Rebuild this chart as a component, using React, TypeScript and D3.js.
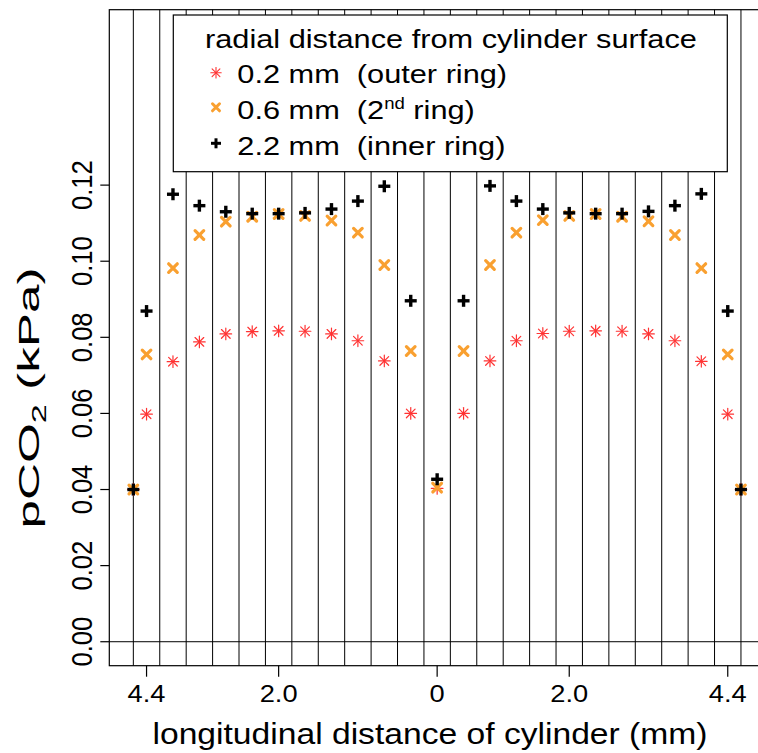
import React from "react";
import * as d3 from "d3";

// ---- data (x in cell units along the cylinder) ----
const xPositions = [0, 0.5, 1.5, 2.5, 3.5, 4.5, 5.5, 6.5, 7.5, 8.5, 9.5, 10.5, 11.5, 12.5, 13.5, 14.5, 15.5, 16.5, 17.5, 18.5, 19.5, 20.5, 21.5, 22.5, 23];
const outerRing = [0.040, 0.0598, 0.0736, 0.0788, 0.0809, 0.0815, 0.0817, 0.0816, 0.0809, 0.0791, 0.0738, 0.0600, 0.0403, 0.0600, 0.0738, 0.0791, 0.0810, 0.0816, 0.0817, 0.0816, 0.0809, 0.0791, 0.0737, 0.0598, 0.040];
const secondRing = [0.040, 0.0755, 0.0982, 0.1069, 0.1104, 0.1117, 0.1124, 0.1119, 0.1107, 0.1075, 0.0990, 0.0764, 0.0405, 0.0764, 0.0990, 0.1075, 0.1108, 0.1119, 0.1124, 0.1117, 0.1105, 0.1069, 0.0982, 0.0755, 0.040];
const innerRing = [0.040, 0.0869, 0.1176, 0.1146, 0.1130, 0.1125, 0.1125, 0.1127, 0.1137, 0.1158, 0.1197, 0.0896, 0.0427, 0.0896, 0.1198, 0.1158, 0.1137, 0.1127, 0.1125, 0.1125, 0.1131, 0.1146, 0.1177, 0.0869, 0.040];
const cellBoundaries = [0, 1, 2, 3, 4, 5, 6, 7, 8, 9, 10, 11, 12, 13, 14, 15, 16, 17, 18, 19, 20, 21, 22, 23];
const xTickPositions = [0.5, 5.5, 11.5, 16.5, 22.5];
const xTickLabels = ["4.4", "2.0", "0", "2.0", "4.4"];
const yTicks = [0, 0.02, 0.04, 0.06, 0.08, 0.1, 0.12];
const yTickLabels = ["0.00", "0.02", "0.04", "0.06", "0.08", "0.10", "0.12"];

const W = 758;
const H = 753;
const FONT = "'Liberation Sans', Arial, Helvetica, sans-serif";
const S = 1.16; // horizontal text stretch

const RED = "#FF3333";
const ORANGE = "#F9A030";
const BLACK = "#000000";

const plotLeft = 109.3;
const plotRight = 765;
const plotTop = 9.7;
const plotBottom = 665.7;

const x = d3.scaleLinear().domain([-0.91, 23.91]).range([plotLeft, plotRight]);
const y = d3.scaleLinear().domain([-0.0063, 0.1661]).range([plotBottom, plotTop]);

function Asterisk({ cx, cy, r, color, sw }: any) {
  const d = r * 0.75;
  return (
    <g stroke={color} strokeWidth={sw} strokeLinecap="round">
      <line x1={cx - r} y1={cy} x2={cx + r} y2={cy} />
      <line x1={cx} y1={cy - r} x2={cx} y2={cy + r} />
      <line x1={cx - d} y1={cy - d} x2={cx + d} y2={cy + d} />
      <line x1={cx - d} y1={cy + d} x2={cx + d} y2={cy - d} />
    </g>
  );
}
function XMark({ cx, cy, r, color, sw }: any) {
  return (
    <g stroke={color} strokeWidth={sw} strokeLinecap="round">
      <line x1={cx - r} y1={cy - r} x2={cx + r} y2={cy + r} />
      <line x1={cx - r} y1={cy + r} x2={cx + r} y2={cy - r} />
    </g>
  );
}
function Plus({ cx, cy, r, color, sw }: any) {
  return (
    <g stroke={color} strokeWidth={sw} strokeLinecap="butt">
      <line x1={cx - r} y1={cy} x2={cx + r} y2={cy} />
      <line x1={cx} y1={cy - r} x2={cx} y2={cy + r} />
    </g>
  );
}

export default function App() {
  const legendX = 173.3;
  const legendY = 15;
  const legendW = 727.3 - 173.3;
  const legendH = 171.7 - 15;
  const legendFont = 26.5;
  const entryBaselines = [83.3, 119.3, 155];
  const markerYs = [72.7, 107.3, 143.3];
  return (
    <svg width={W} height={H} style={{ position: "absolute", left: 0, top: 0, background: "#fff" }} fontFamily={FONT}>
      <rect x={0} y={0} width={W} height={H} fill="#fff" />
      {/* cell boundaries */}
      {cellBoundaries.map((c, i) => (
        <line key={"v" + i} x1={x(c)} x2={x(c)} y1={plotTop} y2={plotBottom} stroke="#000" strokeWidth={1} />
      ))}
      {/* zero line */}
      <line x1={plotLeft} x2={plotRight} y1={y(0)} y2={y(0)} stroke="#000" strokeWidth={1} />
      {/* box */}
      <rect x={plotLeft} y={plotTop} width={plotRight - plotLeft} height={plotBottom - plotTop} fill="none" stroke="#000" strokeWidth={1.2} />

      {/* points */}
      {xPositions.map((p, i) => (
        <Asterisk key={"r" + i} cx={x(p)} cy={y(outerRing[i])} r={5.8} color={RED} sw={1.2} />
      ))}
      {xPositions.map((p, i) => (
        <XMark key={"o" + i} cx={x(p)} cy={y(secondRing[i])} r={4.3} color={ORANGE} sw={3.2} />
      ))}
      {xPositions.map((p, i) => (
        <Plus key={"b" + i} cx={x(p)} cy={y(innerRing[i])} r={6} color={BLACK} sw={3.4} />
      ))}

      {/* y axis */}
      {yTicks.map((t, i) => (
        <g key={"yt" + i}>
          <line x1={plotLeft - 9} x2={plotLeft} y1={y(t)} y2={y(t)} stroke="#000" strokeWidth={1.2} />
          <text transform={`translate(92,${y(t)}) rotate(-90) scale(1,${S})`} textAnchor="middle" fontSize={25.5} fill="#000">
            {yTickLabels[i]}
          </text>
        </g>
      ))}
      {/* x axis */}
      {xTickPositions.map((t, i) => (
        <g key={"xt" + i}>
          <line x1={x(t)} x2={x(t)} y1={plotBottom} y2={plotBottom + 11} stroke="#000" strokeWidth={1.2} />
          <text transform={`translate(${x(t)},701.7) scale(${S},1)`} textAnchor="middle" fontSize={23.5} fill="#000">
            {xTickLabels[i]}
          </text>
        </g>
      ))}
      <text transform={`translate(430,744) scale(${S},1)`} textAnchor="middle" fontSize={29} fill="#000">
        longitudinal distance of cylinder (mm)
      </text>
      <text transform={`translate(39,398) rotate(-90) scale(1.9,1.12)`} textAnchor="middle" fontSize={27} fill="#000">
        pCO<tspan dy={6} fontSize={18}>2</tspan><tspan dy={-6} fontSize={27}> (kPa)</tspan>
      </text>

      {/* legend */}
      <rect x={legendX} y={legendY} width={legendW} height={legendH} fill="#fff" stroke="#000" strokeWidth={1.2} />
      <text transform={`translate(205,47.7) scale(${S},1)`} fontSize={legendFont} fill="#000">
        radial distance from cylinder surface
      </text>
      <Asterisk cx={216} cy={markerYs[0]} r={5.2} color={RED} sw={1.1} />
      <XMark cx={216} cy={markerYs[1]} r={3.5} color={ORANGE} sw={3} />
      <Plus cx={216} cy={markerYs[2]} r={5} color={BLACK} sw={3} />
      <text transform={`translate(237.3,${entryBaselines[0]}) scale(${S},1)`} fontSize={legendFont} fill="#000" style={{ whiteSpace: "pre" }}>
        {"0.2 mm  (outer ring)"}
      </text>
      <text transform={`translate(237.3,${entryBaselines[1]}) scale(${S},1)`} fontSize={legendFont} fill="#000" style={{ whiteSpace: "pre" }}>
        <tspan>{"0.6 mm  (2"}</tspan>
        <tspan dy={-10} fontSize={16}>{"nd"}</tspan>
        <tspan dy={10} fontSize={legendFont}>{" ring)"}</tspan>
      </text>
      <text transform={`translate(237.3,${entryBaselines[2]}) scale(${S},1)`} fontSize={legendFont} fill="#000" style={{ whiteSpace: "pre" }}>
        {"2.2 mm  (inner ring)"}
      </text>
    </svg>
  );
}
